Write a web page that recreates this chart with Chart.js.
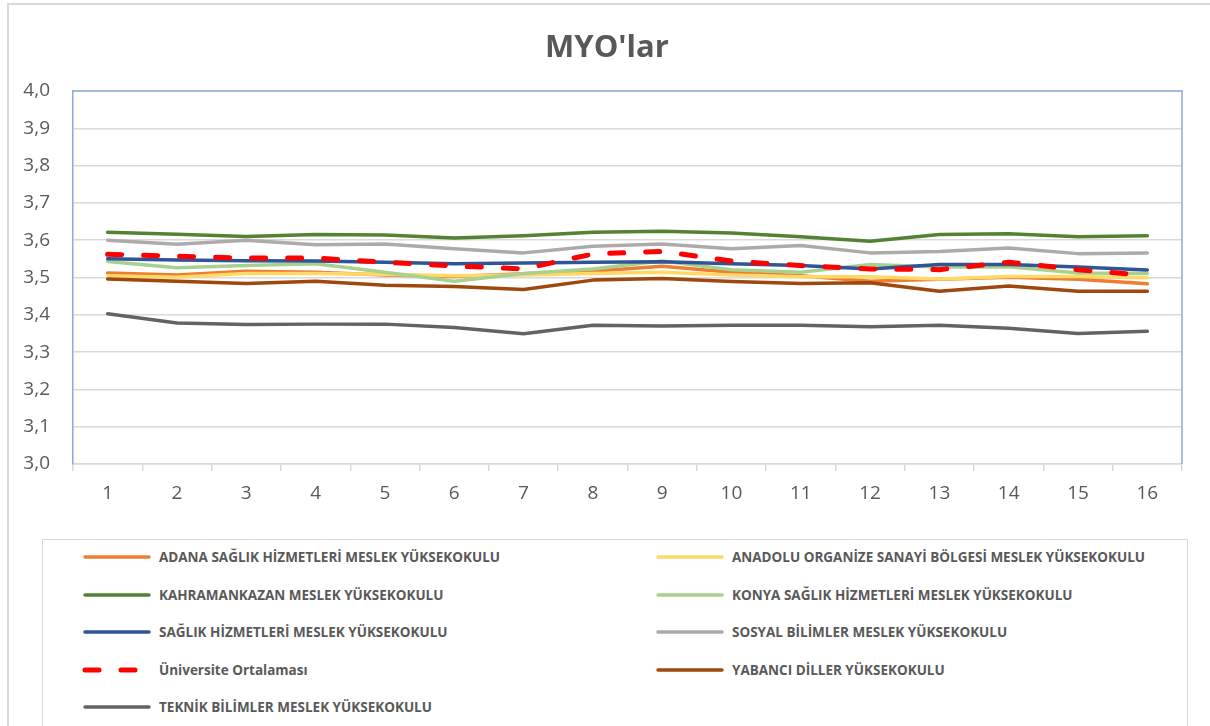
<!DOCTYPE html>
<html>
<head>
<meta charset="utf-8">
<script src="https://cdn.jsdelivr.net/npm/chart.js@4/dist/chart.umd.min.js"></script>
<style>
  body { margin: 0; background: #fff; }
  #wrap { position: relative; width: 1210px; height: 726px; overflow: hidden; }
  #frame { position: absolute; left: 7px; top: 3px; width: 1210px; height: 740px; border: 2px solid #d9d9d9; box-sizing: border-box; }
  #chart { position: absolute; left: 0; top: 0; }
  #legend { position: absolute; left: 42px; top: 539px; width: 1146px; height: 200px; border: 1.5px solid #d9d9d9; box-sizing: border-box; }
  .item { position: absolute; height: 20px; display: flex; align-items: center; font: bold 13.5px "Open Sans", sans-serif; color: #595959; white-space: nowrap; }
  .item canvas { margin-right: 6px; }
</style>
</head>
<body>
<div id="wrap">
  <div id="frame"></div>
  <canvas id="chart" width="1210" height="530"></canvas>
  <div id="legend"></div>
</div>
<script>
// ===== DATA =====
const chartTitle = "MYO'lar";
const labels = ["1", "2", "3", "4", "5", "6", "7", "8", "9", "10", "11", "12", "13", "14", "15", "16"];

const adana = [3.512, 3.507, 3.517, 3.514, 3.507, 3.503, 3.510, 3.517, 3.530, 3.514, 3.505, 3.490, 3.495, 3.501, 3.495, 3.483];
const anadolu = [3.505, 3.501, 3.511, 3.511, 3.509, 3.505, 3.507, 3.511, 3.514, 3.507, 3.502, 3.502, 3.496, 3.503, 3.503, 3.499];
const kahramankazan = [3.621, 3.616, 3.610, 3.615, 3.614, 3.606, 3.612, 3.621, 3.624, 3.619, 3.609, 3.597, 3.615, 3.617, 3.609, 3.612];
const konya = [3.543, 3.526, 3.532, 3.537, 3.514, 3.490, 3.511, 3.523, 3.544, 3.521, 3.514, 3.535, 3.528, 3.529, 3.512, 3.511];
const saglik = [3.550, 3.547, 3.545, 3.544, 3.541, 3.537, 3.539, 3.541, 3.542, 3.537, 3.532, 3.523, 3.535, 3.535, 3.528, 3.520];
const sosyal = [3.600, 3.589, 3.600, 3.588, 3.590, 3.577, 3.566, 3.584, 3.590, 3.577, 3.586, 3.566, 3.570, 3.579, 3.564, 3.566];
const universite = [3.562, 3.557, 3.552, 3.552, 3.541, 3.531, 3.523, 3.563, 3.570, 3.544, 3.532, 3.523, 3.521, 3.541, 3.521, 3.505];
const yabanci = [3.496, 3.490, 3.484, 3.490, 3.479, 3.476, 3.468, 3.493, 3.497, 3.489, 3.484, 3.486, 3.463, 3.477, 3.463, 3.463];
const teknik = [3.403, 3.378, 3.374, 3.375, 3.375, 3.366, 3.349, 3.372, 3.370, 3.372, 3.372, 3.368, 3.372, 3.364, 3.350, 3.356];

const seriesNames = [
  "ADANA SAĞLIK HİZMETLERİ MESLEK YÜKSEKOKULU",
  "ANADOLU ORGANİZE SANAYİ BÖLGESİ MESLEK YÜKSEKOKULU",
  "KAHRAMANKAZAN MESLEK YÜKSEKOKULU",
  "KONYA SAĞLIK HİZMETLERİ MESLEK YÜKSEKOKULU",
  "SAĞLIK HİZMETLERİ MESLEK YÜKSEKOKULU",
  "SOSYAL BİLİMLER MESLEK YÜKSEKOKULU",
  "Üniversite Ortalaması",
  "YABANCI DİLLER YÜKSEKOKULU",
  "TEKNİK BİLİMLER MESLEK YÜKSEKOKULU"
];
const seriesValues = [adana, anadolu, kahramankazan, konya, saglik, sosyal, universite, yabanci, teknik];
const seriesColors = ["#ED7D31", "#FFD966", "#548235", "#A9D18E", "#2F5597", "#AEAAAA", "#FF0000", "#9E480E", "#636363"];

const datasets = seriesNames.map((name, i) => ({
  label: name,
  data: seriesValues[i],
  borderColor: seriesColors[i],
  backgroundColor: seriesColors[i],
  borderWidth: i === 6 ? 5 : 3.5,
  borderDash: i === 6 ? [14, 22] : [],
  borderCapStyle: "round",
  borderJoinStyle: "round",
  pointRadius: 0,
  tension: 0,
  fill: false,
  order: 20 - i, // excel draws later series on top
}));

// blue frame on top/right of plot area + title centred on the whole canvas
const frameLines = {
  id: "frameLines",
  afterDraw(chart) {
    const { ctx, chartArea: a } = chart;
    ctx.save();
    ctx.strokeStyle = "#8EAADB";
    ctx.lineWidth = 1.5;
    ctx.beginPath();
    ctx.moveTo(a.left, a.top);
    ctx.lineTo(a.right, a.top);
    ctx.lineTo(a.right, a.bottom);
    ctx.stroke();

    ctx.fillStyle = "#595959";
    ctx.font = "bold 31px 'Open Sans', sans-serif";
    ctx.textAlign = "center";
    ctx.textBaseline = "middle";
    ctx.fillText(chartTitle, chart.width / 2 + 2, 48);
    ctx.restore();
  },
};

const chart = new Chart(document.getElementById("chart"), {
  type: "line",
  data: { labels: labels, datasets: datasets },
  plugins: [frameLines],
  options: {
    responsive: false,
    animation: false,
    devicePixelRatio: 1,
    layout: { padding: { left: 0, right: 28, top: 91, bottom: 0 } },
    plugins: {
      legend: { display: false },
      tooltip: { enabled: false },
      title: { display: false },
    },
    scales: {
      x: {
        offset: true,
        grid: { offset: true, drawOnChartArea: false, color: "#d9d9d9", tickLength: 7, lineWidth: 1.5 },
        border: { color: "#d9d9d9", width: 1.5 },
        ticks: { color: "#595959", font: { family: "'Open Sans', sans-serif", size: 19 }, padding: 11, maxRotation: 0 },
        afterFit(scale) { scale.height = 66; },
      },
      y: {
        min: 3.0,
        max: 4.0,
        ticks: {
          stepSize: 0.1,
          color: "#595959",
          padding: 23,
          font: { family: "'Open Sans', sans-serif", size: 19 },
          callback: (v) => v.toFixed(1).replace(".", ","),
        },
        grid: { color: "#d9d9d9", lineWidth: 1.5, drawTicks: false },
        border: { color: "#8EAADB", width: 1.5 },
        afterFit(scale) { scale.width = 73; },
      },
    },
  },
});

// ===== LEGEND (html, two columns) =====
const legend = document.getElementById("legend");
datasets.forEach((ds, i) => {
  const col = i % 2;
  const row = Math.floor(i / 2);
  const item = document.createElement("div");
  item.className = "item";
  item.style.left = (col === 0 ? 38 : 611) + "px";
  item.style.top = (7 + row * 37.5) + "px";
  const sw = document.createElement("canvas");
  sw.width = 72;
  sw.height = 10;
  const c = sw.getContext("2d");
  c.strokeStyle = ds.borderColor;
  c.lineWidth = ds.borderWidth;
  c.lineCap = "round";
  c.setLineDash(ds.borderDash);
  c.beginPath();
  c.moveTo(4, 5);
  c.lineTo(68, 5);
  c.stroke();
  item.appendChild(sw);
  const t = document.createElement("span");
  t.textContent = ds.label;
  item.appendChild(t);
  legend.appendChild(item);
});
</script>
</body>
</html>
